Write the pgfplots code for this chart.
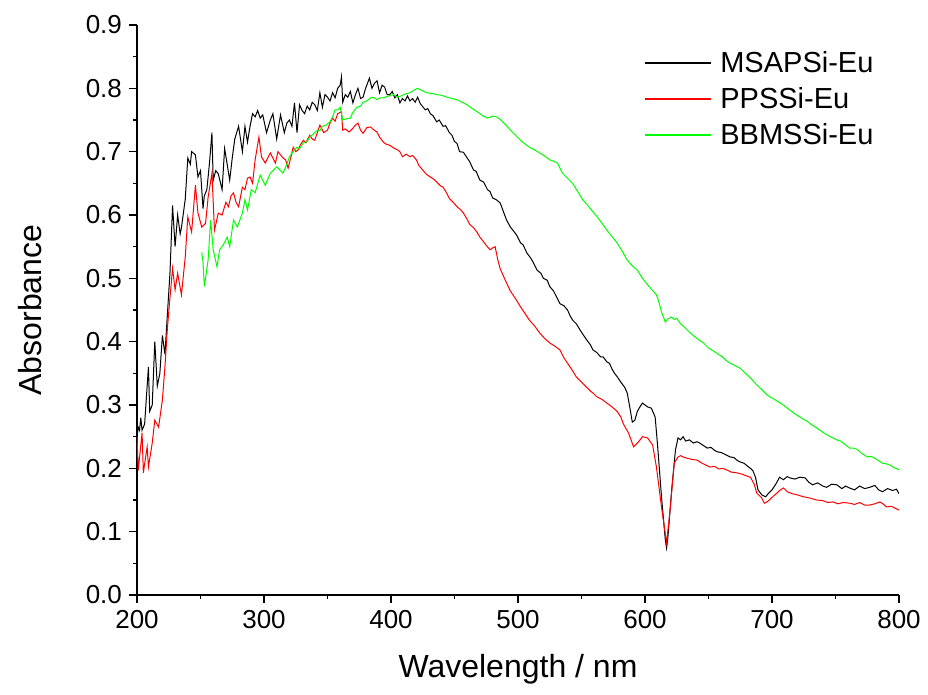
\documentclass[border=0pt]{standalone}
\usepackage{pgfplots}
\pgfplotsset{compat=1.18}
\usepackage{fontspec}
\setmainfont{Liberation Sans}
\definecolor{lgreen}{RGB}{0,255,0}
\definecolor{lred}{RGB}{255,0,0}

\begin{document}
\begin{tikzpicture}
  \begin{axis}[
      scale only axis,
      width=381pt, height=285pt,
      xmin=200, xmax=800, ymin=0, ymax=0.9,
      axis x line=bottom, axis y line=left,
      axis line style={-, line width=1pt},
      tick align=outside,
      major tick length=4pt, minor tick length=2pt,
      every tick/.style={black, line width=0.8pt},
      xtick={200,300,...,800}, minor xtick={250,350,...,750},
      ytick={0,0.1,...,0.9}, minor ytick={0.05,0.15,...,0.85},
      yticklabel style={/pgf/number format/.cd, fixed, fixed zerofill, precision=1},
      /pgf/number format/assume math mode=true,
      tick label style={font=\fontsize{13}{15}\selectfont},
      label style={font=\fontsize{16}{19}\selectfont},
      xlabel={Wavelength / nm},
      ylabel={Absorbance},
      xlabel style={at={(axis description cs:0.5,-0.092)}, anchor=north},
      ylabel style={at={(axis description cs:-0.14,0.5)}, anchor=center},
      legend style={at={(axis description cs:0.665,0.962)}, anchor=north west,
        draw=none, fill=none, font=\fontsize{14.5}{17}\selectfont,
        row sep=2pt, inner sep=0pt,
        /tikz/every odd column/.append style={column sep=2.5pt}},
      legend cell align=left,
      legend image code/.code={%
        \draw[mark repeat=2,mark phase=2,#1]
          plot coordinates {(0pt,0pt) (16.5pt,0pt) (33pt,0pt)};},
    ]
    \addplot[black, line width=0.5pt, forget plot] coordinates {
      (200,0.25) (201,0.265) (202,0.26) (203,0.28) (204,0.26) (206,0.27)
      (207,0.30) (209,0.36) (210,0.29) (212,0.30) (214,0.40) (216,0.33)
      (218,0.35) (220,0.41) (222,0.38) (224,0.445) (226,0.51)
      (228,0.615) (230,0.55) (232,0.60) (234,0.57) (235,0.58) (237,0.61)
      (238,0.625) (240,0.69) (242,0.68) (243,0.70) (246,0.695) (248,0.66)
      (250,0.67) (252,0.61) (253,0.63) (255,0.64) (257,0.68) (259,0.73)
      (260,0.655) (262,0.67) (264,0.665) (267,0.64) (269,0.705) (271,0.68)
      (273,0.655) (275,0.69) (277,0.72) (280,0.74) (283,0.70) (285,0.74)
      (287,0.715) (289,0.74) (291,0.76) (293,0.755) (295,0.765) (297,0.753)
      (299,0.758) (302,0.73) (305,0.75) (307,0.76) (310,0.72) (313,0.758)
      (316,0.73) (318,0.745) (320,0.75) (322,0.74) (324,0.777) (326,0.73)
      (328,0.774) (330,0.765) (332,0.76) (334,0.772) (336,0.766) (338,0.778)
      (340,0.774) (342,0.765) (344,0.793) (346,0.77) (348,0.79) (350,0.786)
      (352,0.78) (354,0.793) (356,0.785) (358,0.80) (360,0.805) (361,0.818)
      (362,0.778) (364,0.79) (366,0.786) (368,0.795) (370,0.777) (372,0.79)
      (374,0.80) (376,0.784) (378,0.786) (380,0.80) (383,0.816) (385,0.80)
      (387,0.808) (389,0.812) (391,0.793) (393,0.805) (395,0.802) (397,0.79)
      (399,0.79) (401,0.795) (403,0.785) (405,0.79) (407,0.777) (409,0.784)
      (411,0.78) (413,0.788) (415,0.78) (417,0.784) (419,0.778) (421,0.786)
      (423,0.776) (425,0.771) (427,0.766) (429,0.768) (431,0.76) (433,0.757)
      (436,0.747) (438,0.750) (441,0.74) (443,0.741) (446,0.73) (448,0.726)
      (450,0.716) (452,0.713) (454,0.70) (457,0.699) (460,0.69) (462,0.684)
      (465,0.671) (467,0.669) (470,0.655) (473,0.652) (476,0.64) (478,0.637)
      (480,0.627) (483,0.624) (486,0.619) (488,0.608) (491,0.592) (494,0.581)
      (496,0.576) (499,0.568) (502,0.556) (504,0.553) (507,0.54) (510,0.532)
      (512,0.525) (515,0.513) (518,0.508) (520,0.50) (523,0.497) (525,0.487)
      (528,0.48) (530,0.472) (533,0.46) (536,0.457) (539,0.45) (541,0.441)
      (543,0.434) (546,0.428) (549,0.418) (551,0.412) (554,0.403) (557,0.395)
      (559,0.387) (562,0.383) (565,0.376) (567,0.376) (570,0.368) (572,0.366)
      (574,0.357) (576,0.35) (578,0.345) (581,0.336) (584,0.328) (586,0.319)
      (588,0.297) (590,0.273) (592,0.276) (594,0.29) (596,0.297) (598,0.303)
      (600,0.30) (602,0.297) (605,0.295) (608,0.281) (610,0.234) (613,0.155)
      (616,0.087) (617,0.074) (618,0.09) (621,0.166) (624,0.229) (626,0.248)
      (628,0.245) (630,0.25) (632,0.243) (635,0.245) (638,0.24) (641,0.242)
      (643,0.24) (646,0.236) (649,0.232) (652,0.233) (655,0.228) (657,0.226)
      (660,0.225) (663,0.222) (667,0.218) (670,0.217) (673,0.212) (675,0.21)
      (678,0.208) (681,0.203) (683,0.20) (685,0.196) (687,0.186) (689,0.166)
      (692,0.158) (695,0.155) (697,0.16) (700,0.166) (703,0.175) (706,0.186)
      (709,0.182) (712,0.187) (714,0.185) (718,0.183) (722,0.186) (726,0.185)
      (729,0.178) (732,0.174) (736,0.177) (740,0.172) (743,0.17) (747,0.175)
      (751,0.174) (755,0.168) (758,0.172) (761,0.169) (765,0.166) (769,0.172)
      (773,0.168) (777,0.17) (781,0.173) (784,0.166) (787,0.163) (791,0.168)
      (795,0.165) (798,0.167) (800,0.16)
    };
    \addplot[lred, line width=0.5pt, forget plot] coordinates {
      (200,0.25) (201,0.197) (204,0.256) (205,0.193) (208,0.234) (209,0.202)
      (212,0.24) (214,0.276) (217,0.265) (220,0.308) (222,0.36) (224,0.423)
      (226,0.47) (228,0.516) (230,0.482) (232,0.508) (235,0.474) (238,0.534)
      (240,0.597) (243,0.573) (246,0.647) (248,0.603) (251,0.581) (254,0.587)
      (256,0.628) (259,0.666) (261,0.576) (264,0.603) (267,0.60) (270,0.62)
      (272,0.613) (274,0.63) (276,0.635) (278,0.62) (280,0.613) (283,0.644)
      (285,0.64) (287,0.658) (289,0.66) (291,0.65) (293,0.687) (296,0.723)
      (298,0.692) (301,0.682) (303,0.69) (305,0.698) (307,0.69) (309,0.682)
      (311,0.70) (313,0.695) (315,0.69) (317,0.687) (319,0.674) (321,0.69)
      (323,0.707) (325,0.70) (327,0.703) (329,0.712) (331,0.718) (333,0.714)
      (336,0.726) (338,0.72) (340,0.718) (342,0.73) (344,0.742) (347,0.73)
      (350,0.734) (352,0.745) (354,0.753) (356,0.748) (358,0.76) (361,0.763)
      (362,0.734) (364,0.736) (367,0.731) (370,0.737) (372,0.742) (374,0.745)
      (376,0.734) (378,0.729) (381,0.738) (384,0.739) (386,0.735) (389,0.731)
      (391,0.723) (394,0.715) (396,0.712) (399,0.71) (402,0.706) (405,0.703)
      (407,0.70) (409,0.692) (412,0.696) (415,0.692) (417,0.694) (420,0.687)
      (422,0.678) (425,0.671) (428,0.664) (431,0.66) (434,0.656) (436,0.652)
      (439,0.646) (441,0.644) (444,0.634) (446,0.626) (449,0.62) (452,0.613)
      (455,0.608) (457,0.603) (460,0.593) (462,0.585) (465,0.58) (468,0.572)
      (470,0.565) (472,0.56) (475,0.552) (478,0.545) (480,0.548) (482,0.55)
      (484,0.53) (486,0.515) (490,0.497) (494,0.48) (498,0.468) (502,0.455)
      (505,0.446) (509,0.434) (513,0.425) (517,0.414) (521,0.405) (525,0.398)
      (529,0.393) (533,0.387) (536,0.375) (539,0.366) (543,0.354) (546,0.344)
      (550,0.336) (554,0.328) (557,0.322) (559,0.319) (562,0.313) (566,0.309)
      (570,0.303) (574,0.297) (578,0.29) (581,0.281) (583,0.27) (587,0.256)
      (591,0.234) (593,0.238) (595,0.242) (598,0.25) (600,0.249) (602,0.248)
      (606,0.237) (609,0.202) (613,0.139) (617,0.082) (620,0.139) (623,0.208)
      (626,0.218) (628,0.22) (630,0.218) (633,0.216) (637,0.214) (641,0.213)
      (645,0.208) (648,0.205) (651,0.202) (655,0.203) (658,0.199) (661,0.20)
      (665,0.197) (668,0.194) (672,0.193) (676,0.191) (680,0.188) (683,0.186)
      (686,0.175) (688,0.161) (692,0.153) (694,0.145) (696,0.147) (698,0.15)
      (701,0.156) (704,0.161) (706,0.165) (709,0.169) (712,0.163) (716,0.16)
      (720,0.158) (725,0.155) (730,0.153) (735,0.15) (740,0.149) (744,0.146)
      (748,0.147) (752,0.144) (756,0.146) (761,0.145) (765,0.143) (769,0.146)
      (773,0.142) (777,0.142) (781,0.144) (785,0.147) (788,0.143) (790,0.139)
      (794,0.14) (797,0.137) (800,0.134)
    };
    \addplot[lgreen, line width=0.5pt, forget plot] coordinates {
      (251,0.541) (252,0.525) (253,0.487) (256,0.529) (258,0.592) (260,0.545)
      (263,0.518) (265,0.545) (268,0.553) (271,0.565) (273,0.55) (276,0.592)
      (279,0.581) (283,0.603) (285,0.624) (287,0.608) (290,0.64) (293,0.635)
      (297,0.663) (301,0.647) (305,0.666) (308,0.672) (310,0.676) (313,0.67)
      (315,0.666) (318,0.68) (320,0.692) (323,0.70) (326,0.707) (328,0.705)
      (331,0.714) (334,0.716) (336,0.723) (339,0.728) (342,0.734) (344,0.733)
      (346,0.74) (349,0.742) (352,0.747) (354,0.755) (356,0.766) (358,0.766)
      (360,0.77) (362,0.75) (365,0.752) (368,0.753) (370,0.762) (373,0.77)
      (376,0.772) (378,0.778) (381,0.78) (384,0.785) (386,0.786) (389,0.782)
      (391,0.785) (394,0.785) (398,0.788) (402,0.79) (405,0.786) (408,0.788)
      (411,0.791) (415,0.793) (418,0.797) (421,0.80) (424,0.797) (428,0.793)
      (432,0.792) (436,0.79) (440,0.789) (444,0.786) (448,0.784) (452,0.782)
      (456,0.778) (460,0.774) (464,0.768) (468,0.763) (472,0.757) (476,0.753)
      (480,0.756) (483,0.755) (486,0.751) (488,0.747) (491,0.741) (494,0.734)
      (498,0.726) (502,0.718) (505,0.713) (509,0.707) (513,0.703) (517,0.698)
      (521,0.693) (525,0.687) (528,0.685) (531,0.682) (533,0.674) (535,0.666)
      (539,0.658) (543,0.65) (547,0.637) (551,0.624) (555,0.615) (559,0.605)
      (562,0.598) (565,0.59) (568,0.582) (570,0.576) (574,0.566) (578,0.556)
      (582,0.543) (586,0.529) (589,0.522) (591,0.518) (594,0.513) (598,0.50)
      (602,0.49) (605,0.483) (609,0.474) (611,0.462) (613,0.447) (616,0.431)
      (618,0.436) (621,0.439) (623,0.435) (625,0.437) (628,0.428) (631,0.423)
      (635,0.415) (639,0.408) (643,0.402) (646,0.398) (650,0.39) (654,0.385)
      (657,0.381) (661,0.376) (664,0.37) (667,0.366) (671,0.362) (675,0.358)
      (679,0.35) (683,0.343) (686,0.336) (688,0.332) (692,0.324) (696,0.316)
      (699,0.312) (701,0.31) (705,0.305) (709,0.30) (712,0.295) (714,0.292)
      (718,0.286) (722,0.281) (725,0.277) (728,0.274) (731,0.269) (735,0.264)
      (738,0.26) (740,0.257) (744,0.252) (748,0.248) (751,0.245) (754,0.243)
      (758,0.237) (761,0.232) (764,0.232) (767,0.23) (771,0.223) (775,0.218)
      (778,0.219) (780,0.217) (784,0.212) (787,0.208) (790,0.207) (793,0.205)
      (796,0.201) (800,0.198)
    };
    \addlegendimage{black, line width=0.6pt}
    \addlegendentry{MSAPSi-Eu}
    \addlegendimage{lred, line width=0.6pt}
    \addlegendentry{PPSSi-Eu}
    \addlegendimage{lgreen, line width=0.6pt}
    \addlegendentry{BBMSSi-Eu}
  \end{axis}
  \path (current axis.south west) ++(-68.5pt,-50pt) rectangle ++(464pt,347.5pt);
\end{tikzpicture}
\end{document}
